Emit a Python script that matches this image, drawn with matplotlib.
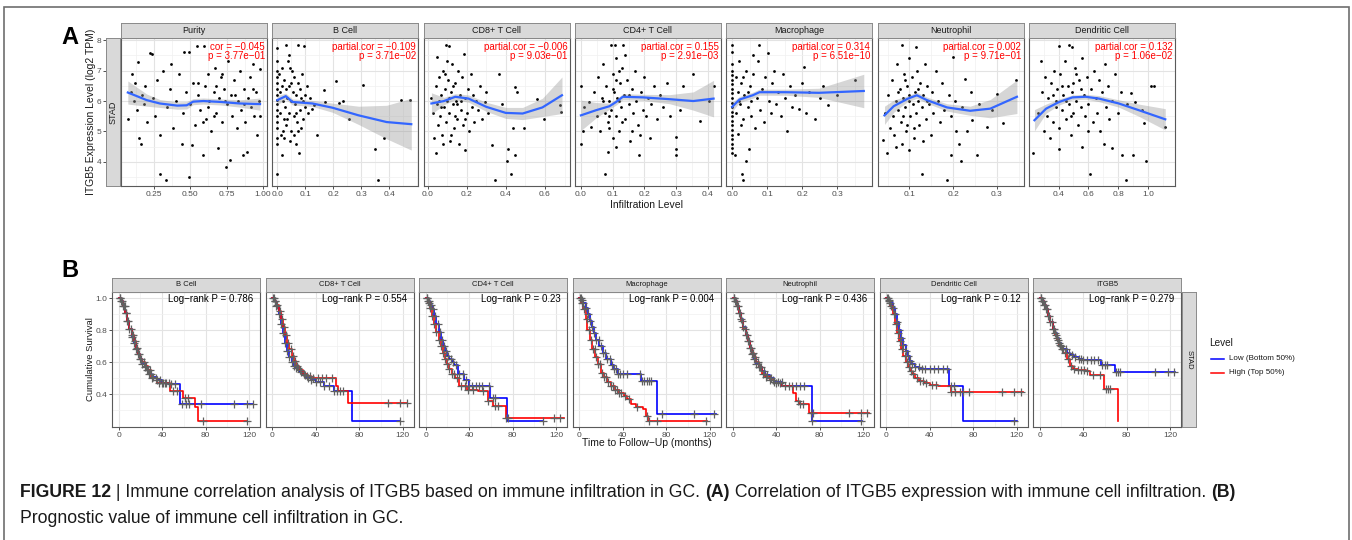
import numpy as np
import matplotlib
matplotlib.use("Agg")
import matplotlib.pyplot as plt
from matplotlib.lines import Line2D
from matplotlib.patches import Rectangle
from matplotlib.ticker import MultipleLocator

plt.rcParams['font.family'] = ['Liberation Sans', 'DejaVu Sans']

W, H = 1352, 540

# ---------------- panel A: scatter data ----------------
cells_a = ["Purity", "B Cell", "CD8+ T Cell", "CD4+ T Cell", "Macrophage", "Neutrophil", "Dendritic Cell"]
stat_a = [("cor = \u22120.045", "p = 3.77e\u221201"),
          ("partial.cor = \u22120.109", "p = 3.71e\u221202"),
          ("partial.cor = \u22120.006", "p = 9.03e\u221201"),
          ("partial.cor = 0.155", "p = 2.91e\u221203"),
          ("partial.cor = 0.314", "p = 6.51e\u221210"),
          ("partial.cor = 0.002", "p = 9.71e\u221201"),
          ("partial.cor = 0.132", "p = 1.06e\u221202")]

purity_pts = [(0.07,5.4),(0.09,6.3),(0.10,6.9),(0.11,6.0),(0.12,6.6),(0.13,5.7),(0.14,7.29),(0.15,4.77),(0.16,4.58),(0.17,6.2),
              (0.18,5.9),(0.19,6.5),(0.20,5.3),(0.22,7.58),(0.235,7.54),(0.24,6.1),(0.26,5.5),(0.27,6.7),(0.29,4.88),(0.29,3.6),
              (0.31,7.0),(0.33,3.42),(0.34,5.8),(0.36,6.4),(0.37,7.2),(0.38,5.1),(0.40,6.0),(0.42,6.9),(0.44,4.58),(0.45,5.6),
              (0.457,7.6),(0.47,6.3),(0.49,3.5),(0.494,7.6),(0.50,5.9),(0.51,4.55),(0.52,6.6),(0.53,5.2),(0.545,7.8),(0.55,6.2),
              (0.57,5.7),(0.586,4.22),(0.595,7.8),(0.60,6.5),(0.61,5.4),(0.62,6.9),(0.63,6.0),(0.64,5.0),(0.66,6.3),(0.67,7.1),
              (0.68,5.6),(0.69,4.46),(0.70,6.1),(0.71,6.8),(0.72,5.3),(0.73,6.4),(0.745,3.82),(0.75,5.9),(0.76,7.3),(0.775,4.05),
              (0.78,6.2),(0.79,5.5),(0.80,6.7),(0.82,5.1),(0.83,6.0),(0.84,7.0),(0.85,5.7),(0.86,4.24),(0.87,6.4),(0.88,5.3),
              (0.89,4.33),(0.90,6.1),(0.91,6.8),(0.92,5.8),(0.93,7.2),(0.94,5.5),(0.95,6.3),(0.96,4.9),(0.97,6.0),(0.98,7.05),(0.98,5.5),
              (0.55,6.6),(0.62,5.8),(0.68,6.5),(0.74,6.0),(0.81,6.2),(0.87,5.9),(0.59,5.3),(0.66,5.5),(0.72,6.9),(0.93,6.4)]
bcell_pts = [(0,7.73),(0,7.3),(0,7.0),(0,6.8),(0,6.6),(0,6.4),(0,6.2),(0,6.05),(0,5.9),(0,5.7),(0,5.5),(0,5.3),(0,5.1),(0,4.8),(0,4.6),(0,3.62),
             (0.005,6.9),(0.008,5.6),(0.01,6.3),(0.012,4.9),(0.015,7.1),(0.018,4.22),(0.02,6.0),(0.022,5.4),(0.025,6.7),(0.028,5.8),
             (0.03,7.84),(0.03,6.4),(0.032,5.2),(0.035,6.1),(0.038,7.3),(0.04,5.6),(0.042,6.5),(0.045,4.7),(0.048,6.0),(0.05,5.0),
             (0.052,7.0),(0.055,6.3),(0.058,5.5),(0.06,6.8),(0.062,5.9),(0.065,4.6),(0.068,6.2),(0.07,5.3),(0.072,7.84),(0.075,6.6),
             (0.078,4.31),(0.08,5.7),(0.082,6.4),(0.085,5.1),(0.088,6.9),(0.09,6.0),(0.092,5.4),(0.095,7.8),(0.097,6.2),(0.10,5.8),
             (0.105,6.5),(0.11,5.6),(0.115,6.1),(0.125,5.75),(0.13,5.86),(0.143,4.9),(0.167,6.36),(0.17,5.97),(0.21,6.65),(0.22,5.94),
             (0.233,6.0),(0.257,5.4),(0.305,6.52),(0.35,4.44),(0.36,3.42),(0.38,4.8),(0.44,6.05),(0.475,6.05),(0.06,4.9),(0.04,7.5),(0.02,5.0),
             (0.015,6.5),(0.035,5.4),(0.05,6.6),(0.065,5.6),(0.085,6.1),(0.025,4.8),(0.045,7.1),(0.075,5.0)]
cd8_pts = [(0.02,6.1),(0.03,5.6),(0.035,4.8),(0.042,4.3),(0.045,6.5),(0.05,7.45),(0.05,5.9),(0.055,5.2),(0.06,6.8),(0.065,5.5),
           (0.07,6.2),(0.075,4.9),(0.08,7.0),(0.085,5.8),(0.09,6.4),(0.092,7.84),(0.095,5.3),(0.10,6.0),(0.105,6.7),(0.109,7.8),
           (0.11,5.6),(0.115,4.7),(0.12,6.3),(0.125,7.2),(0.13,5.9),(0.135,5.1),(0.14,6.6),(0.145,6.0),(0.15,5.4),(0.155,7.0),
           (0.16,4.58),(0.165,6.2),(0.17,5.7),(0.175,6.8),(0.18,5.2),(0.184,7.56),(0.19,6.1),(0.193,4.38),(0.20,5.6),(0.205,6.4),
           (0.21,5.0),(0.22,6.9),(0.225,5.8),(0.23,6.2),(0.24,5.3),(0.25,6.0),(0.26,5.7),(0.27,6.5),(0.28,5.4),(0.293,5.97),
           (0.30,6.3),(0.31,5.6),(0.327,4.55),(0.344,3.42),(0.365,6.88),(0.38,5.9),(0.406,4.03),(0.41,4.44),(0.427,3.6),(0.436,5.1),
           (0.449,4.22),(0.449,6.47),(0.456,6.3),(0.494,5.13),(0.561,6.06),(0.595,5.42),(0.679,5.88),(0.684,5.64),(0.08,4.6),(0.12,4.9),
           (0.06,6.0),(0.14,5.5),(0.1,7.3),(0.17,6.0),(0.07,5.8),(0.09,6.9),(0.11,6.1),(0.13,6.5),(0.15,5.9),(0.19,5.4)]
cd4_pts = [(0,6.49),(0,4.58),(0.005,5.02),(0.01,5.8),(0.026,5.97),(0.032,5.15),(0.04,6.3),(0.05,5.5),(0.055,6.8),(0.06,5.0),
           (0.065,6.1),(0.07,7.2),(0.075,5.6),(0.077,3.6),(0.08,6.5),(0.085,4.33),(0.085,5.3),(0.09,6.0),(0.095,7.84),(0.095,5.7),
           (0.10,6.9),(0.10,4.8),(0.105,6.3),(0.106,7.84),(0.11,5.5),(0.112,7.4),(0.115,6.1),(0.12,5.0),(0.122,6.6),(0.125,5.8),
           (0.13,7.1),(0.132,7.84),(0.135,6.2),(0.14,5.4),(0.145,6.7),(0.15,5.9),(0.155,4.7),(0.16,6.4),(0.165,5.6),(0.17,7.0),
           (0.175,6.0),(0.18,5.2),(0.183,4.22),(0.185,4.88),(0.19,6.3),(0.195,5.7),(0.20,6.8),(0.205,5.5),(0.21,6.1),(0.217,4.8),
           (0.22,5.9),(0.23,6.5),(0.24,5.4),(0.25,6.2),(0.26,5.8),(0.27,6.6),(0.28,5.5),(0.298,4.24),(0.298,4.44),(0.30,4.82),
           (0.312,5.7),(0.323,6.5),(0.354,6.9),(0.376,5.35),(0.402,6.0),(0.418,6.5),(0.11,4.5),(0.14,7.5),(0.09,5.1),(0.16,5.0),
           (0.12,6.0),(0.07,6.0),(0.1,6.4),(0.13,5.3),(0.12,7.0),(0.09,5.5),(0.15,6.2),(0.11,6.7)]
macro_pts = [(0,7.84),(0,7.6),(0,7.2),(0,7.0),(0,6.85),(0,6.7),(0,6.55),(0,6.4),(0,6.25),(0,6.1),(0,5.95),(0,5.8),(0,5.65),(0,5.5),
             (0,5.35),(0,5.2),(0,5.05),(0,4.9),(0,4.75),(0,4.6),(0,4.45),(0,4.3),
             (0.007,4.24),(0.01,6.8),(0.012,5.6),(0.016,4.93),(0.018,6.3),(0.02,7.3),(0.022,5.9),(0.025,6.6),(0.028,3.6),(0.03,3.42),
             (0.03,5.4),(0.035,6.2),(0.04,4.03),(0.04,7.0),(0.045,5.8),(0.049,4.44),(0.05,6.5),(0.055,5.5),(0.06,6.9),(0.066,5.1),
             (0.07,6.1),(0.075,7.3),(0.078,7.84),(0.08,5.7),(0.085,6.4),(0.09,5.3),(0.095,6.8),(0.101,7.58),(0.105,6.0),(0.11,5.6),
             (0.115,6.6),(0.12,7.0),(0.125,5.9),(0.13,6.3),(0.14,5.5),(0.145,6.9),(0.15,6.1),(0.158,5.01),(0.165,6.5),(0.17,5.8),
             (0.18,6.2),(0.19,5.75),(0.20,6.6),(0.205,7.12),(0.21,5.6),(0.22,6.3),(0.238,5.4),(0.25,6.1),(0.259,6.5),(0.273,5.86),
             (0.30,6.2),(0.352,6.68),(0.06,7.5),(0.02,6.0),(0.03,6.8),(0.045,6.3),(0.025,5.2),(0.055,6.0)]
neutro_pts = [(0.04,4.73),(0.045,5.6),(0.048,4.31),(0.05,6.2),(0.055,5.1),(0.06,6.7),(0.062,5.5),(0.065,4.9),(0.07,6.0),(0.072,7.2),
              (0.075,5.7),(0.078,6.4),(0.08,5.3),(0.082,4.6),(0.083,7.84),(0.085,6.1),(0.088,6.9),(0.09,5.8),(0.092,5.0),(0.095,6.5),
              (0.098,4.38),(0.10,7.4),(0.10,6.2),(0.102,5.5),(0.105,6.8),(0.108,5.9),(0.11,4.8),(0.112,6.3),(0.114,7.78),(0.115,5.6),
              (0.118,7.0),(0.12,6.0),(0.122,5.2),(0.125,6.6),(0.128,5.8),(0.129,3.6),(0.13,6.2),(0.135,7.2),(0.138,5.4),(0.14,6.5),
              (0.145,5.9),(0.15,4.9),(0.152,6.3),(0.155,5.6),(0.16,7.0),(0.165,6.0),(0.17,5.3),(0.175,6.6),(0.18,5.7),(0.186,3.42),
              (0.19,6.2),(0.194,4.24),(0.195,5.5),(0.20,7.43),(0.205,6.0),(0.207,5.01),(0.213,4.58),(0.218,4.03),(0.22,5.8),(0.228,6.71),
              (0.232,5.01),(0.24,6.3),(0.243,5.39),(0.254,4.22),(0.26,5.9),(0.277,5.15),(0.29,5.7),(0.30,6.22),(0.314,5.28),(0.344,6.68),
              (0.07,4.5),(0.11,5.1),(0.09,6.7),(0.13,4.7),(0.085,5.5),(0.1,6.0),(0.12,6.4),(0.095,5.2),(0.14,6.0),(0.075,6.3)]
dc_pts = [(0.231,4.31),(0.26,5.6),(0.282,7.32),(0.29,6.3),(0.30,5.0),(0.31,6.8),(0.32,5.5),(0.33,6.1),(0.34,4.8),(0.35,6.6),
          (0.36,5.3),(0.37,7.0),(0.38,5.8),(0.39,6.4),(0.40,7.8),(0.40,5.1),(0.404,4.41),(0.41,6.9),(0.42,5.7),(0.43,6.2),
          (0.44,7.3),(0.45,5.4),(0.46,6.5),(0.467,7.84),(0.47,5.9),(0.48,4.9),(0.489,7.78),(0.49,6.3),(0.50,5.6),(0.51,7.1),
          (0.52,6.0),(0.53,5.2),(0.54,6.7),(0.55,5.8),(0.56,4.49),(0.56,7.4),(0.57,6.2),(0.58,5.5),(0.59,6.8),(0.60,5.9),
          (0.611,3.6),(0.62,6.4),(0.63,5.3),(0.64,7.0),(0.65,6.1),(0.66,5.6),(0.67,6.7),(0.68,5.0),(0.69,6.3),(0.704,4.58),
          (0.71,7.2),(0.72,5.8),(0.73,6.5),(0.74,5.4),(0.756,4.47),(0.76,6.0),(0.78,6.9),(0.80,5.6),(0.82,6.3),(0.827,4.22),
          (0.853,3.42),(0.86,5.9),(0.889,6.27),(0.898,4.24),(0.916,5.97),(0.96,5.72),(0.971,5.28),(0.989,4.03),(1.022,6.49),(1.038,6.5),
          (1.116,5.15),(0.45,6.0),(0.52,6.9),(0.38,6.0),(0.6,5.0),(0.42,6.5),(0.48,5.5),(0.55,6.4),(0.36,6.2),(0.5,6.6)]
points_a = [purity_pts, bcell_pts, cd8_pts, cd4_pts, macro_pts, neutro_pts, dc_pts]

# loess fits: x, fitted value, half width of the band
fit_x = [[0.07,0.2,0.29,0.41,0.475,0.52,0.59,0.71,0.84,0.98],
         [0,0.03,0.054,0.125,0.197,0.29,0.39,0.478],
         [0.02,0.084,0.142,0.21,0.30,0.40,0.486,0.587,0.687],
         [0,0.048,0.09,0.111,0.132,0.196,0.28,0.354,0.418],
         [0,0.021,0.059,0.078,0.153,0.248,0.376],
         [0.043,0.064,0.095,0.117,0.14,0.186,0.239,0.285,0.346],
         [0.238,0.316,0.404,0.493,0.582,0.671,0.804,0.938,1.116]]
fit_y = [[6.28,6.03,5.92,5.85,5.86,5.98,6.0,5.97,5.92,5.9],
         [6.03,6.16,5.97,5.92,5.78,5.53,5.31,5.24],
         [5.92,6.0,6.14,6.08,5.81,5.61,5.59,5.79,6.19],
         [5.53,5.7,5.83,5.97,6.14,6.12,6.06,6.0,6.08],
         [5.81,6.05,6.19,6.29,6.29,6.27,6.33],
         [5.53,5.83,6.07,6.19,6.03,5.79,5.68,5.75,6.14],
         [5.37,5.75,5.97,6.12,6.14,6.08,5.92,5.7,5.4]]
fit_se = [[0.38,0.2,0.13,0.12,0.12,0.1,0.1,0.1,0.12,0.2],
          [0.15,0.1,0.1,0.1,0.15,0.3,0.55,0.85],
          [0.35,0.12,0.1,0.12,0.15,0.18,0.2,0.3,0.6],
          [0.5,0.25,0.1,0.1,0.1,0.1,0.15,0.3,0.6],
          [0.15,0.1,0.1,0.1,0.1,0.15,0.55],
          [0.3,0.2,0.1,0.1,0.1,0.12,0.15,0.3,0.55],
          [0.35,0.15,0.1,0.08,0.08,0.1,0.12,0.2,0.35]]

xticks_a = [[0.25,0.5,0.75,1.0],[0,0.1,0.2,0.3,0.4],[0,0.2,0.4,0.6],[0,0.1,0.2,0.3,0.4],
            [0,0.1,0.2,0.3],[0.1,0.2,0.3],[0.4,0.6,0.8,1.0]]
xlabels_a = [["0.25","0.50","0.75","1.00"],["0.0","0.1","0.2","0.3","0.4"],["0.0","0.2","0.4","0.6"],
             ["0.0","0.1","0.2","0.3","0.4"],["0.0","0.1","0.2","0.3"],["0.1","0.2","0.3"],["0.4","0.6","0.8","1.0"]]
xlims_a = [(0.023,1.028),(-0.018,0.503),(-0.02,0.726),(-0.019,0.441),(-0.017,0.40),(0.027,0.361),(0.2,1.18)]
yticks_a = [4, 5, 6, 7, 8]

# ---------------- panel B: Kaplan-Meier data ----------------
cells_b = ["B Cell", "CD8+ T Cell", "CD4+ T Cell", "Macrophage", "Neutrophil", "Dendritic Cell", "ITGB5"]
logrank_p = ["0.786", "0.554", "0.23", "0.004", "0.436", "0.12", "0.279"]

low_t = [[0,2,4,6,8,10,12,14,16,18,20,22,24,26,28,31,35,40,45,56.5,124],
         [0,2,4,6,8,10,12,14,16,18,20,22,25,28,32,36,40,47.3,56.6,73.5,118],
         [0,2,4,6,8,10,12,14,16,18,20,22,24,26,30,35,40,59.4,74.8,108],
         [0,2,4,6,8,10,12,14,16,18.5,22,25,29,32,35.4,57,71.7,126],
         [0,2,4,6,8,10,12,14,16,18,20,22,24,27,30,34,38,45.4,73,119],
         [0,2,4,6,8,10,12,14,16,18,20,22,24,27,30.3,57.5,70.5,120],
         [0,2,4,6,8,10,12,14,16,18,20,22,25,28,32,36,40,56.5,69.5,124.5]]
low_s = [[1.0,0.98,0.95,0.91,0.86,0.81,0.76,0.72,0.68,0.65,0.62,0.59,0.57,0.55,0.53,0.51,0.49,0.47,0.465,0.34,0.34],
         [1.0,0.98,0.95,0.90,0.84,0.78,0.72,0.67,0.63,0.60,0.58,0.565,0.54,0.52,0.50,0.49,0.48,0.452,0.421,0.234,0.234],
         [1.0,0.98,0.96,0.93,0.89,0.84,0.79,0.74,0.70,0.67,0.64,0.62,0.60,0.586,0.53,0.49,0.452,0.379,0.234,0.234],
         [1.0,0.99,0.97,0.94,0.90,0.86,0.82,0.78,0.74,0.70,0.66,0.62,0.586,0.56,0.53,0.483,0.276,0.276],
         [1.0,0.98,0.95,0.91,0.87,0.82,0.77,0.73,0.69,0.65,0.62,0.59,0.57,0.545,0.52,0.50,0.48,0.452,0.234,0.234],
         [1.0,0.99,0.97,0.94,0.90,0.85,0.80,0.75,0.71,0.67,0.64,0.61,0.59,0.57,0.56,0.452,0.234,0.234],
         [1.0,0.98,0.96,0.93,0.89,0.85,0.81,0.78,0.75,0.72,0.70,0.68,0.66,0.645,0.63,0.62,0.613,0.586,0.539,0.539]]
high_t = [[0,2,4,6,8,10,12,14,16,18,20,22,24,27,30,35,47,59.5,70,72.7,118],
          [0,2,4,6,8,10,12,14,16,18,20,22,25,28,32,36,59,61,69.6,124],
          [0,2,4,6,8,10,12,14,16,18,20,22,24,27,31,38,48,57,62,74,127],
          [0,2,4,6,7.7,10,12.3,15,17,20,23,26,29,33,37,41.5,44,47.7,52,58.5,61.5,63,118],
          [0,2,4,6,8,10,12,14,16,18,20,22,24,27,30,34,38,45,56,58,61,70,125],
          [0,2,4,6,8,10,12,14,16,18,20,22,24,27,30,35,40,47.3,59.7,126],
          [0,2,4,6,8,10,12,14,16,18,20,22,25,28,31,35,43,46,59.5,72,72.01]]
high_s = [[1.0,0.98,0.95,0.91,0.86,0.81,0.77,0.73,0.69,0.65,0.62,0.60,0.58,0.55,0.50,0.47,0.42,0.38,0.32,0.235,0.235],
          [1.0,0.98,0.96,0.92,0.87,0.82,0.77,0.72,0.68,0.64,0.61,0.58,0.55,0.53,0.515,0.503,0.452,0.42,0.344,0.344],
          [1.0,0.97,0.94,0.89,0.84,0.79,0.74,0.70,0.66,0.62,0.59,0.56,0.53,0.50,0.452,0.43,0.42,0.358,0.327,0.255,0.255],
          [1.0,0.97,0.93,0.87,0.80,0.74,0.68,0.63,0.59,0.535,0.51,0.48,0.452,0.43,0.41,0.39,0.37,0.338,0.32,0.307,0.265,0.234,0.234],
          [1.0,0.98,0.95,0.91,0.86,0.81,0.77,0.73,0.69,0.66,0.63,0.60,0.57,0.53,0.51,0.49,0.47,0.452,0.406,0.358,0.338,0.282,0.282],
          [1.0,0.98,0.95,0.90,0.84,0.78,0.73,0.68,0.64,0.60,0.57,0.545,0.525,0.505,0.483,0.47,0.46,0.452,0.414,0.414],
          [1.0,0.98,0.96,0.93,0.89,0.85,0.81,0.77,0.74,0.71,0.68,0.66,0.62,0.58,0.56,0.55,0.545,0.518,0.431,0.234,0.234]]
low_cens = [[1,2.5,4,5.5,7,9,11,12.5,14,16,18,20,22,24,26,28,30,32,35,38,41,44,48,52,58.5,62,65,76,106,118,124],
            [1,2.5,4,6,8,10,12,14,16,18,20,22,24,27,30,33,36,40,44,48,52,57,60,65,118],
            [1,2,3.5,5,7,9,11,13,15,17,19,21,23,25,28,31,34,37,40,43,46,49,52,58,62,64,108],
            [1,2.5,4,6,8,10,12,14,16,18,20,22,24,26,28,30,32,34,36,38,40,44,56,58,60,62,64,66,76,106,124],
            [1,2.5,4,6,8,10,12,14,16,18,20,22,24,26,29,32,35,38,42,45,48,52,55,58,62,66,73,118],
            [1,2.5,4,6,8,10,12,14,16,18,20,22,24,27,30,33,36,40,44,48,52,56,60,62,118],
            [1,2.5,4,6,8,10,12,14,16,18,20,22,24,27,30,33,36,38,40,44,47,50,54,57,60,62,70,72,74,106,118,124]]
high_cens = [[1.5,3,5,6.5,8,10,12,13.5,15,17,19,21,23,25,27,29,31,34,37,40,43,46,50,54,61,64,78,118],
             [1.5,3,5,7,9,11,13,15,17,19,21,23,26,29,32,35,38,42,46,50,55,62,107,118,124],
             [1.5,3,4.5,6,8,10,12,14,16,18,20,22,24,26,29,33,36,39,44,53,57,64,67,74,76,118,124],
             [1.5,3,5,7,9,11,13,14.5,16,17.5,19,21,23,25,27,29,31,33,35,37,39,42,46,53,62,64,72,117],
             [1.5,3,5,7,9,11,13,15,17,19,21,23,25,28,31,34,37,40,44,60,62,65,72,74,107,118,124],
             [1.5,3,5,7,9,11,13,15,17,19,21,23,25,28,31,34,37,42,46,60,63,68,71,76,107,118,124],
             [1.5,3,5,7,9,11,13,15,17,19,21,23,26,29,32,35,38,41,44,49,56,61,63,65]]

legend_labels = ["Low (Bottom 50%)", "High (Top 50%)"]
legend_colors = ["#0000FF", "#FF0000"]

GRID_MAJ = "#E3E3E3"
GRID_MIN = "#F0F0F0"
EDGE = "#5A5A5A"
TICKC = "#4D4D4D"
STRIP = "#D9D9D9"


def rect(x0, y0, x1, y1):
    return [x0 / W, 1 - y1 / H, (x1 - x0) / W, (y1 - y0) / H]


def style_panel(ax):
    ax.set_facecolor("white")
    ax.set_axisbelow(True)
    ax.grid(which="major", color=GRID_MAJ, lw=0.8)
    ax.grid(which="minor", color=GRID_MIN, lw=0.5)
    for sp in ax.spines.values():
        sp.set_color(EDGE)
        sp.set_linewidth(0.8)
    ax.tick_params(which="major", length=2, width=0.6, color="#333333", labelsize=6,
                   labelcolor=TICKC, pad=1.5)
    ax.tick_params(which="minor", length=0)


def strip_box(x0, y0, x1, y1, label, size, rot=0):
    s = fig.add_axes(rect(x0, y0, x1, y1))
    s.set_facecolor(STRIP)
    s.set_xticks([])
    s.set_yticks([])
    for sp in s.spines.values():
        sp.set_color("#8A8A8A")
        sp.set_linewidth(0.7)
    s.text(0.5, 0.5, label, ha="center", va="center", fontsize=size, color="#1A1A1A",
           rotation=rot, transform=s.transAxes)
    return s


def step_value(times, surv, t):
    idx = np.searchsorted(times, t, side="right") - 1
    return np.asarray(surv)[np.clip(idx, 0, len(surv) - 1)]


fig = plt.figure(figsize=(W / 100, H / 100), dpi=100)

# ---------------- A ----------------
ylim_a = (3.21, 8.07)
for i, name in enumerate(cells_a):
    x0 = 121 + i * 151.3
    x1 = x0 + 146
    ax = fig.add_axes(rect(x0, 38, x1, 186))
    style_panel(ax)
    pts = np.array(points_a[i])
    ax.scatter(pts[:, 0], pts[:, 1], s=4, c="black", linewidths=0, zorder=3)
    fx = np.array(fit_x[i]); fy = np.array(fit_y[i]); fs = np.array(fit_se[i])
    ax.fill_between(fx, fy - fs, fy + fs, color="#999999", alpha=0.4, lw=0, zorder=4)
    ax.plot(fx, fy, color="#3366FF", lw=1.6, zorder=5)
    ax.set_xlim(*xlims_a[i])
    ax.set_ylim(*ylim_a)
    ax.set_xticks(xticks_a[i])
    ax.set_xticklabels(xlabels_a[i])
    step = xticks_a[i][1] - xticks_a[i][0]
    ax.xaxis.set_minor_locator(MultipleLocator(step / 2))
    ax.set_yticks(yticks_a)
    ax.yaxis.set_minor_locator(MultipleLocator(0.5))
    ax.tick_params(axis="y", left=False, labelleft=False)
    ax.text(0.985, 0.975, stat_a[i][0] + "\n" + stat_a[i][1], transform=ax.transAxes,
            ha="right", va="top", color="#FF0000", fontsize=7, linespacing=0.95, zorder=6)
    strip_box(x0, 23, x1, 38, name, 6.5)

# left strip with the y axis
sl = strip_box(106, 38, 120, 186, "STAD", 6.5, rot=90)
sl.set_ylim(*ylim_a)
sl.set_yticks(yticks_a)
sl.set_yticklabels([str(v) for v in yticks_a])
sl.tick_params(axis="y", length=2, width=0.6, color="#333333", labelsize=6, labelcolor=TICKC, pad=1.5)

fig.text(91 / W, 1 - 112 / H, "ITGB5 Expression Level (log2 TPM)", rotation=90,
         ha="center", va="center", fontsize=7.5, color="#1A1A1A")
fig.text(647 / W, 1 - 205 / H, "Infiltration Level", ha="center", va="center", fontsize=7.5, color="#1A1A1A")
fig.text(61 / W, 1 - 44 / H, "A", fontsize=17, fontweight="bold", ha="left", va="baseline")

# ---------------- B ----------------
for i, name in enumerate(cells_b):
    x0 = 112 + i * 153.5
    x1 = x0 + 148
    ax = fig.add_axes(rect(x0, 292, x1, 427))
    style_panel(ax)
    for t, s, c, col in [(low_t[i], low_s[i], low_cens[i], legend_colors[0]),
                         (high_t[i], high_s[i], high_cens[i], legend_colors[1])]:
        ax.step(t, s, where="post", color=col, lw=1.2, zorder=3)
        c = np.array(c)
        ax.plot(c, step_value(t, s, c), ls="none", marker="+", ms=5.5, mew=0.9,
                color="#606060", zorder=4)
    ax.set_xlim(-6, 130)
    ax.set_ylim(0.197, 1.038)
    ax.set_xticks([0, 40, 80, 120])
    ax.xaxis.set_minor_locator(MultipleLocator(20))
    ax.set_yticks([0.4, 0.6, 0.8, 1.0])
    ax.yaxis.set_minor_locator(MultipleLocator(0.1))
    if i == 0:
        ax.set_yticklabels(["0.4", "0.6", "0.8", "1.0"])
    else:
        ax.tick_params(axis="y", left=False, labelleft=False)
    ax.text(0.955, 0.985, "Log\u2212rank P = " + logrank_p[i], transform=ax.transAxes,
            ha="right", va="top", fontsize=7, color="black", zorder=6)
    strip_box(x0, 278, x1, 292, name, 5.5)

strip_box(1182, 292, 1196, 427, "STAD", 5.5, rot=-90)

fig.text(90 / W, 1 - 359 / H, "Cumulative Survival", rotation=90, ha="center", va="center",
         fontsize=6.8, color="#1A1A1A")
fig.text(647 / W, 1 - 443 / H, "Time to Follow\u2212Up (months)", ha="center", va="center",
         fontsize=7.5, color="#1A1A1A")
fig.text(61 / W, 1 - 277 / H, "B", fontsize=17, fontweight="bold", ha="left", va="baseline")

# legend
fig.text(1209 / W, 1 - 343 / H, "Level", ha="left", va="center", fontsize=7.2, color="#1A1A1A")
for k, (lab, col) in enumerate(zip(legend_labels, legend_colors)):
    yy = 1 - (359 + 14 * k) / H
    fig.add_artist(Line2D([1211 / W, 1224 / W], [yy, yy], color=col, lw=1.1, transform=fig.transFigure))
    fig.text(1229 / W, yy, lab, ha="left", va="center", fontsize=5.8, color="#1A1A1A")

# caption with bold pieces
renderer = fig.canvas.get_renderer()


def rich_line(x, y, parts, size):
    for txt, bold in parts:
        t = fig.text(x / W, 1 - y / H, txt, fontsize=size, fontweight="bold" if bold else "normal",
                     ha="left", va="baseline", color="#1A1A1A")
        bb = t.get_window_extent(renderer)
        x = bb.x1


CAP = 12.7
rich_line(20, 497, [("FIGURE 12", True), (" | Immune correlation analysis of ITGB5 based on immune infiltration in GC. ", False),
                    ("(A)", True), (" Correlation of ITGB5 expression with immune cell infiltration. ", False), ("(B)", True)], CAP)
rich_line(20, 523, [("Prognostic value of immune cell infiltration in GC.", False)], CAP)

# outer frame
fig.add_artist(Rectangle((4 / W, -0.05), (1349 - 4) / W, 1.05 - 7 / H, transform=fig.transFigure,
                         fill=False, ec="#6E6E6E", lw=1.2))

fig.savefig("out.png", dpi=100)
